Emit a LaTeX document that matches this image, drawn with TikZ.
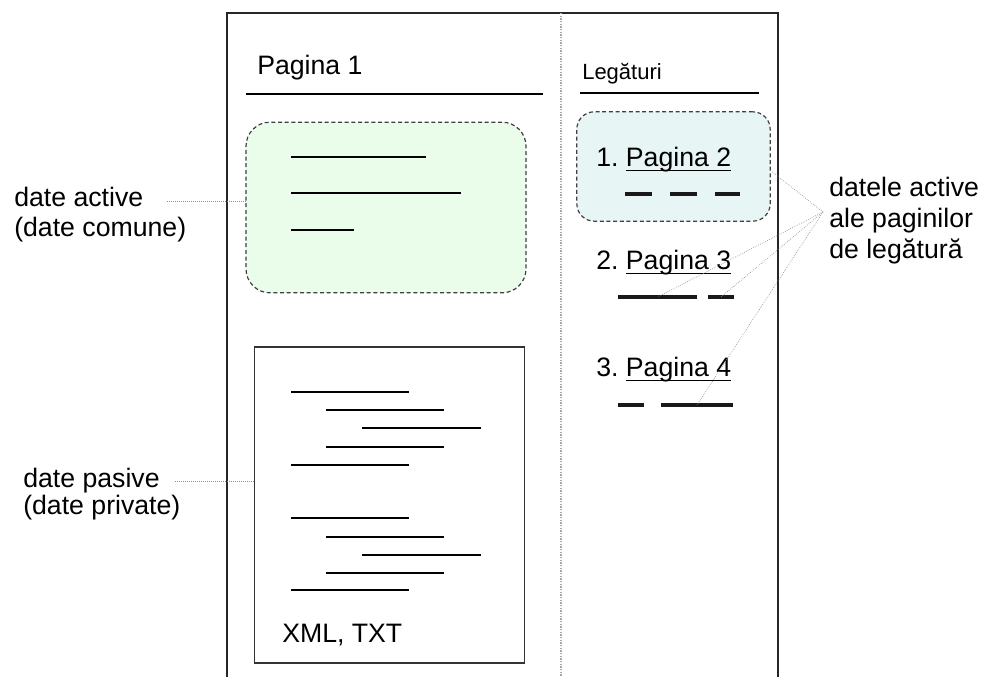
\documentclass[tikz,border=0pt]{standalone}
\usepackage{fontspec}
\setmainfont{Liberation Sans}
\usetikzlibrary{calc}
\definecolor{activegreen}{HTML}{EAFCEA}
\definecolor{linkblue}{HTML}{E8F5F5}
\newsavebox\ulbox
\newcommand\subl[1]{\sbox\ulbox{#1}\rlap{\rule[-3pt]{\wd\ulbox}{1pt}}\usebox\ulbox}% underlined link text
\frenchspacing

\begin{document}
\begin{tikzpicture}[x=0.75pt,y=-0.75pt,
	txt/.style={font=\fontsize{20}{24}\selectfont,inner sep=0pt,anchor=base west},
	leader/.style={black!45,densely dotted,line width=0.5pt},
	edge/.style={draw=black!75,line width=0.9pt,dash pattern=on 3pt off 2pt},
	stroke/.style={line width=3pt,black!90}]
	\useasboundingbox (0,0) rectangle (986,677);
	
	%PAGE FRAME
	\draw[line width=1.1pt,black!85] (227,677)--(227,13)--(778,13)--(778,677);
	\draw[black!35,densely dotted,line width=1pt] (561,13)--(561,677);	%column divider
	
	%PAGE 1
	\node[txt] (titlu) at (257,75) {Pagina 1};
	\draw[line width=1.6pt] (246,94)--(543,94);
	%
	\node[edge,fill=activegreen,rounded corners=18pt,
		minimum width=210pt,minimum height=128pt,inner sep=0pt] (activ) at (386,207.5) {};
	\draw[line width=2pt] (291,157)--(426,157);
	\draw[line width=2pt] (291,193)--(461,193);
	\draw[line width=2pt] (291,230)--(354,230);
	%
	\node[draw=black!80,line width=0.9pt,minimum width=203pt,minimum height=237pt,inner sep=0pt] (pasiv) at (389.5,505) {};
	\draw[line width=0.8pt] (291,392)--(409,392);
	\draw[line width=0.8pt] (326,410)--(444,410);
	\draw[line width=0.8pt] (362,428)--(481,428);
	\draw[line width=0.8pt] (326,447)--(444,447);
	\draw[line width=0.8pt] (291,465)--(409,465);
	%
	\draw[line width=0.8pt] (291,518)--(409,518);
	\draw[line width=0.8pt] (326,537)--(444,537);
	\draw[line width=0.8pt] (362,555)--(481,555);
	\draw[line width=0.8pt] (326,573)--(444,573);
	\draw[line width=0.8pt] (291,590)--(409,590);
	\node[txt] (format) at (282,642) {XML, TXT};
	
	%LINKS COLUMN
	\node[txt,font=\fontsize{16.5}{20}\selectfont] (leg) at (582,80) {Legături};
	\draw[line width=1.6pt] (580,93)--(759,93);
	%
	\node[edge,fill=linkblue,rounded corners=13pt,
		minimum width=145pt,minimum height=82pt,inner sep=0pt] (link1) at (673.5,166.5) {};
	\node[txt] (pag2) at (596,167) {1. \subl{Pagina 2}};
	\draw[stroke] (625,194)--(652,194);
	\draw[stroke] (670,194)--(697,194);
	\draw[stroke] (715,194)--(740,194);
	%
	\node[txt] (pag3) at (596,270) {2. \subl{Pagina 3}};
	\draw[stroke] (618,297)-- coordinate (d3a) (697,297);
	\draw[stroke] (708,297)-- coordinate (d3b) (734,297);
	%
	\node[txt] (pag4) at (596,377) {3. \subl{Pagina 4}};
	\draw[stroke] (618,405)--(644,405);
	\draw[stroke] (661,405)-- coordinate (d4) (733,405);
	
	%CAPTIONS
	\node[txt] (act1) at (14,207) {date active};
	\node[txt] (act2) at (14,237) {(date comune)};
	\coordinate (actl) at (167,201);
	\draw[leader] (actl)--(actl -| activ.west);
	%
	\node[txt] (pas1) at (23,487) {date pasive};
	\node[txt] (pas2) at (23,514) {(date private)};
	\coordinate (pasl) at (175,481);
	\draw[leader] (pasl)--(pasl -| pasiv.west);
	%
	\node[txt] (dl1) at (829,197) {datele active};
	\node[txt] (dl2) at (829,228) {ale paginilor};
	\node[txt] (dl3) at (829,259) {de legătură};
	\coordinate (conv) at (823,212);
	\draw[leader] (conv)--($(link1.east)+(1,5)$);
	\draw[leader] (conv)--(d3a);
	\draw[leader] (conv)--(d3b);
	\draw[leader] (conv)--(d4);
\end{tikzpicture}
\end{document}
